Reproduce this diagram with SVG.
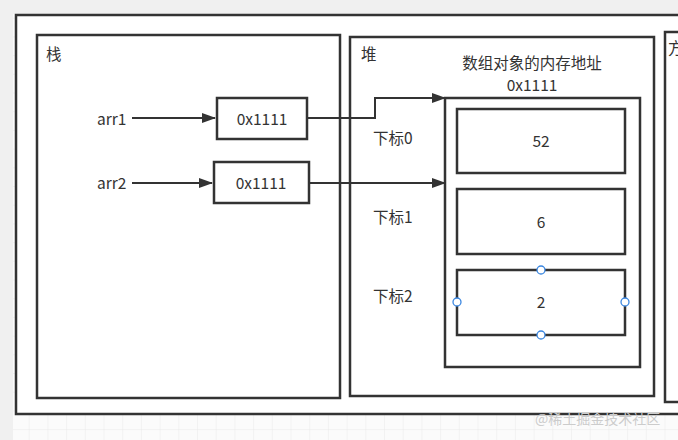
<svg xmlns="http://www.w3.org/2000/svg" width="678" height="440" viewBox="0 0 678 440">
<style>
.box{fill:#fff;stroke:#333;stroke-width:2.5}
.t{font-family:"Noto Sans CJK SC","Liberation Sans",sans-serif;font-size:15.5px;fill:#333}
.c{text-anchor:middle}
.con{fill:none;stroke:#333;stroke-width:2}
.h{fill:#fff;stroke:#3a86e0;stroke-width:1.3}
</style>
<defs>
<pattern id="grid" width="18.7" height="18.7" patternUnits="userSpaceOnUse" x="11" y="0">
<path d="M18.7 0V18.7H0" fill="none" stroke="#e9e9e9" stroke-width="1"/>
</pattern>
<marker id="ah" markerWidth="14" markerHeight="10" refX="13" refY="5" orient="auto" markerUnits="userSpaceOnUse">
<path d="M0 0L14 5L0 10Z" fill="#333"/>
</marker>
</defs>
<rect width="678" height="440" fill="#fbfbfb"/>
<rect width="678" height="440" fill="url(#grid)"/>
<rect width="678" height="14" fill="#f0f0f0"/>
<rect width="13" height="440" fill="#f0f0f0"/>
<g id="outer"><rect class="box" x="16" y="15" width="680" height="399"/></g>
<g id="stack"><rect class="box" x="37" y="35" width="303" height="363"/><text class="t" x="46" y="60">栈</text></g>
<g id="heap"><rect class="box" x="350" y="37" width="304" height="359"/><text class="t" x="361" y="60">堆</text></g>
<g id="method"><rect class="box" x="665" y="32" width="40" height="370"/><text class="t" x="668" y="54">方</text></g>
<g id="arr1"><text class="t" x="97" y="125">arr1</text></g>
<g id="arr2"><text class="t" x="97" y="189">arr2</text></g>
<g id="ref1"><rect class="box" x="217" y="98" width="90" height="41"/><text class="t c" x="262" y="125">0x1111</text></g>
<g id="ref2"><rect class="box" x="214" y="162" width="95" height="41"/><text class="t c" x="261" y="189">0x1111</text></g>
<g id="array"><rect class="box" x="445" y="98" width="195" height="269"/>
<text class="t c" x="532" y="69">数组对象的内存地址</text><text class="t c" x="532" y="91">0x1111</text></g>
<g id="idx0"><text class="t" x="373" y="144">下标0</text><rect class="box" x="457" y="109" width="168" height="64"/><text class="t c" x="541" y="147">52</text></g>
<g id="idx1"><text class="t" x="373" y="223">下标1</text><rect class="box" x="457" y="189" width="168" height="65"/><text class="t c" x="541" y="228">6</text></g>
<g id="idx2"><text class="t" x="373" y="302">下标2</text><rect class="box" x="457" y="270" width="168" height="65"/><text class="t c" x="541" y="308">2</text>
<circle class="h" cx="541" cy="270" r="4"/><circle class="h" cx="541" cy="335" r="4"/><circle class="h" cx="457" cy="302" r="4"/><circle class="h" cx="625" cy="302" r="4"/></g>
<g id="connectors">
<path class="con" d="M132 118H215" marker-end="url(#ah)"/>
<path class="con" d="M132 183H212" marker-end="url(#ah)"/>
<path class="con" d="M307 118H375V98H445" marker-end="url(#ah)"/>
<path class="con" d="M309 183H445" marker-end="url(#ah)"/>
</g>
<text x="535" y="424" style="font-family:'Noto Sans CJK SC',sans-serif;font-size:14px;fill:#cccccc">@稀土掘金技术社区</text>
</svg>
